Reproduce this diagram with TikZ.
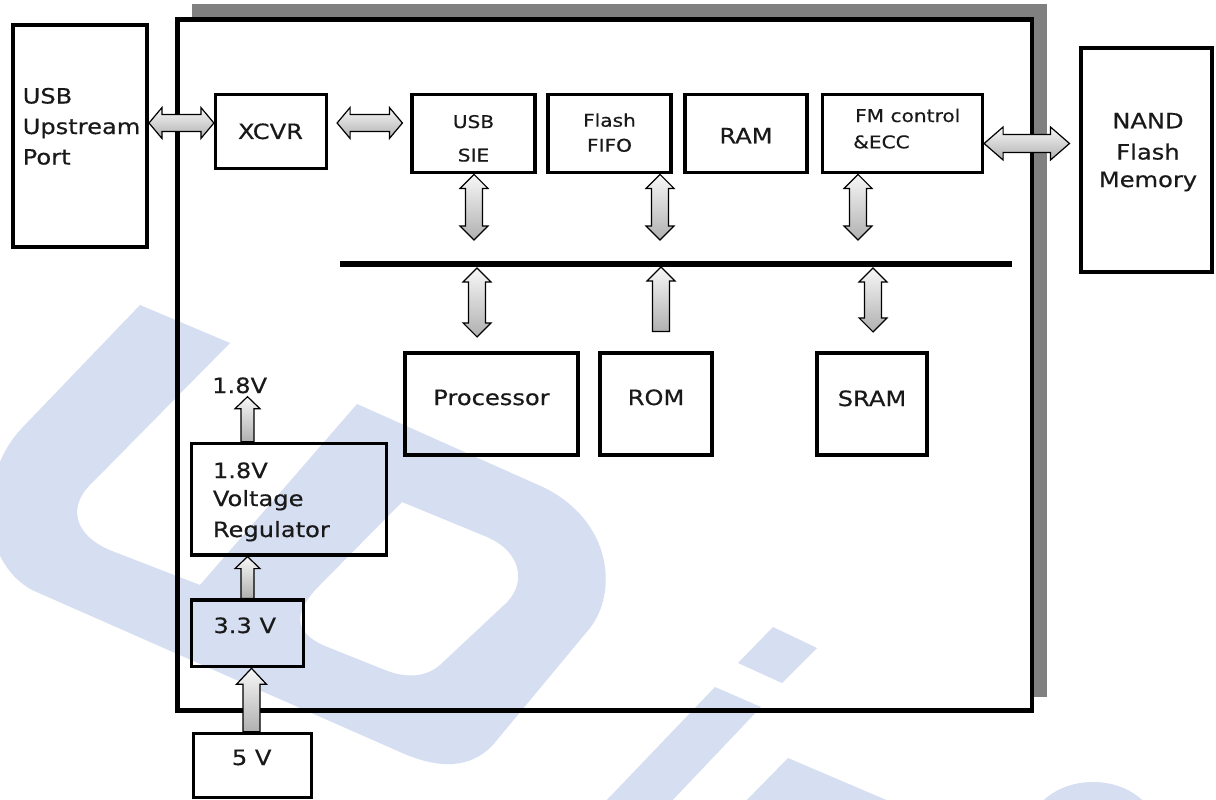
\documentclass[tikz,border=0pt]{standalone}
\usepackage{fontspec}
\setmainfont{DejaVu Sans}[FakeStretch=1.15, FakeBold=0.5]
\usetikzlibrary{calc}
\definecolor{wm}{RGB}{214,222,241}
\definecolor{shadowgray}{RGB}{128,128,128}
\definecolor{ink}{RGB}{25,25,25}
\tikzset{
  obox/.style={draw=black, line width=4, fill=none, inner sep=0pt},
  ibox/.style={draw=black, line width=3.2, fill=none, inner sep=0pt},
  txt/.style={font=\fontsize{21}{25}\selectfont, inner sep=0pt, text=ink},
  stxt/.style={font=\fontsize{17.5}{21}\selectfont, inner sep=0pt, text=ink},
  fat/.style={draw=black, line width=1.2, line join=miter, top color=gray!6, bottom color=gray!62},
  busline/.style={line width=6, draw=black},
}
% vertical double arrow: top tip #1, bottom tip #2, head half width #3, shaft half width #4, head length #5
\newcommand\vdbl[5]{\draw[fat] (#1) -- ($(#1)+(#3,#5)$) -- ($(#1)+(#4,#5)$) -- ($(#2)+(#4,-#5)$) -- ($(#2)+(#3,-#5)$) -- (#2) -- ($(#2)+(-#3,-#5)$) -- ($(#2)+(-#4,-#5)$) -- ($(#1)+(-#4,#5)$) -- ($(#1)+(-#3,#5)$) -- cycle;}
% horizontal double arrow: left tip #1, right tip #2
\newcommand\hdbl[5]{\draw[fat] (#1) -- ($(#1)+(#5,-#3)$) -- ($(#1)+(#5,-#4)$) -- ($(#2)+(-#5,-#4)$) -- ($(#2)+(-#5,-#3)$) -- (#2) -- ($(#2)+(-#5,#3)$) -- ($(#2)+(-#5,#4)$) -- ($(#1)+(#5,#4)$) -- ($(#1)+(#5,#3)$) -- cycle;}
% single up arrow: top tip #1, flat bottom #2
\newcommand\vsgl[5]{\draw[fat] (#1) -- ($(#1)+(#3,#5)$) -- ($(#1)+(#4,#5)$) -- ($(#2)+(#4,0)$) -- ($(#2)+(-#4,0)$) -- ($(#1)+(-#4,#5)$) -- ($(#1)+(-#3,#5)$) -- cycle;}

\begin{document}
\begin{tikzpicture}[x=1pt,y=-1pt]
\useasboundingbox (0,0) rectangle (1216,800);
\fill[white] (0,0) rectangle (1216,800);

% shadow and main box body
\fill[shadowgray] (192,4) rectangle (1047,697);
\node[fill=white, draw=none, outer sep=0pt, inner sep=0pt, minimum width=854.5, minimum height=691] (main) at (604.75,365) {};

% watermark
\fill[wm, even odd rule]
 (140,305) -- (22,428) .. controls (-22,474) and (-22,560) .. (32,590)
 -- (400,752) .. controls (440,770) and (470,768) .. (492,746)
 -- (590,628) .. controls (618,592) and (612,522) .. (545,488)
 -- (357,404) -- (200,585) -- (112,551) .. controls (72,535) and (68,505) .. (92,483) -- (230,343) -- cycle
 (402,502) -- (487,537) .. controls (522,552) and (528,585) .. (503,606) -- (440,665) .. controls (425,678) and (405,678) .. (385,670)
 -- (330,648) .. controls (295,635) and (290,615) .. (320,585) -- cycle;
\fill[wm] (773,627) -- (817,648) -- (782,683) -- (738,663) -- cycle;
\fill[wm] (715,687) -- (761,707) -- (668,805) -- (602,805) -- cycle;
\fill[wm] (788,758) -- (898,805) -- (742,805) -- cycle;
\fill[wm] (1093,832) ellipse [x radius=64, y radius=50];

% main box border
\draw[line width=4.5] (main.north west) rectangle (main.south east);

% boxes
\node[obox, minimum width=134, minimum height=222] (usb) at (80,136) {};
\node[obox, minimum width=131.5, minimum height=224] (nand) at (1146.25,160) {};
\node[ibox, minimum width=111, minimum height=74] (xcvr) at (271,131.5) {};
\node[ibox, minimum width=123, minimum height=78.6] (sie) at (473.5,133.5) {};
\node[ibox, minimum width=123, minimum height=78.6] (fifo) at (609.5,133.5) {};
\node[ibox, minimum width=122, minimum height=78.6] (ram) at (746,133.5) {};
\node[ibox, minimum width=160.2, minimum height=78.6] (fm) at (902.4,133.5) {};
\node[ibox, minimum width=173, minimum height=102] (proc) at (491.5,404) {};
\node[ibox, minimum width=112, minimum height=102] (rom) at (656,404) {};
\node[ibox, minimum width=110, minimum height=102] (sram) at (872,404) {};
\node[ibox, minimum width=194.8, minimum height=111.7] (reg) at (289.1,499.15) {};
\node[ibox, minimum width=111.6, minimum height=66.7] (v33) at (247.5,633.35) {};
\node[ibox, minimum width=118.4, minimum height=64.2] (v5) at (252.5,765.4) {};

% bus
\coordinate (busL) at (340,264);
\coordinate (busR) at (1012,264);
\draw[busline] (busL) -- (busR);

% arrow end points
\coordinate (h1a) at (usb.east |- 0,123);
\coordinate (h1b) at (xcvr.west |- 0,123);
\coordinate (h2a) at ($(xcvr.east |- 0,123)+(9,0)$);
\coordinate (h2b) at ($(sie.west |- 0,123)+(-8,0)$);
\coordinate (h3a) at (fm.east |- 0,143.5);
\coordinate (h3b) at ($(nand.west |- 0,143.5)+(-9,0)$);
\coordinate (u1a) at (474,0 |- sie.south);
\coordinate (u1b) at ($(474,0 |- busL)+(0,-24)$);
\coordinate (u2a) at (660,0 |- fifo.south);
\coordinate (u2b) at ($(660,0 |- busL)+(0,-24)$);
\coordinate (u3a) at (858,0 |- fm.south);
\coordinate (u3b) at ($(858,0 |- busL)+(0,-24)$);
\coordinate (d1a) at ($(477,0 |- busL)+(0,4)$);
\coordinate (d1b) at ($(477,0 |- proc.north)+(0,-14.5)$);
\coordinate (d2a) at ($(661,0 |- busL)+(0,3)$);
\coordinate (d2b) at ($(661,0 |- rom.north)+(0,-20)$);
\coordinate (d3a) at ($(873,0 |- busL)+(0,4)$);
\coordinate (d3b) at ($(873,0 |- sram.north)+(0,-19.5)$);
\coordinate (p1a) at ($(247.5,0 |- reg.north)+(0,-45)$);
\coordinate (p1b) at (247.5,0 |- reg.north);
\coordinate (p2a) at (247.5,0 |- reg.south);
\coordinate (p2b) at (247.5,0 |- v33.north);
\coordinate (p3a) at (251.5,0 |- v33.south);
\coordinate (p3b) at (251.5,0 |- v5.north);

% arrows
\hdbl{h1a}{h1b}{15.5}{8.5}{13}
\hdbl{h2a}{h2b}{15.5}{8.5}{13}
\hdbl{h3a}{h3b}{16.5}{9}{19}
\vdbl{u1a}{u1b}{14}{8.5}{14}
\vdbl{u2a}{u2b}{14}{8.5}{14}
\vdbl{u3a}{u3b}{14}{8.5}{14}
\vdbl{d1a}{d1b}{14}{8.5}{14}
\vsgl{d2a}{d2b}{14}{8.5}{14}
\vdbl{d3a}{d3b}{14}{8.5}{14}
\vsgl{p1a}{p1b}{12.5}{6.5}{12}
\vsgl{p2a}{p2b}{12.5}{6.5}{12}
\vsgl{p3a}{p3b}{15}{8.5}{16}

% texts
\node[txt, anchor=base west] (usbt1) at (22.5,103.5) {USB};
\node[txt, anchor=base west] (usbt2) at (22.5,134) {Upstream};
\node[txt, anchor=base west] (usbt3) at (22.5,164.5) {Port};
\node[txt, anchor=base] (xcvrt) at (270.5,139) {XCVR};
\node[stxt, anchor=base] (siet1) at (473.5,128) {USB};
\node[stxt, anchor=base] (siet2) at (473.5,161.5) {SIE};
\node[stxt, anchor=base] (fifot1) at (609.5,126.7) {Flash};
\node[stxt, anchor=base] (fifot2) at (609.5,151.7) {FIFO};
\node[txt, anchor=base] (ramt) at (746,143.3) {RAM};
\node[stxt, anchor=base west] (fmt1) at (855,122) {FM control};
\node[stxt, anchor=base west] (fmt2) at (853,148.3) {\&ECC};
\node[txt, anchor=base] (nandt1) at (1148,128.3) {NAND};
\node[txt, anchor=base] (nandt2) at (1148,159.5) {Flash};
\node[txt, anchor=base] (nandt3) at (1148,187) {Memory};
\node[txt, anchor=base] (proct) at (491.5,405) {Processor};
\node[txt, anchor=base] (romt) at (656,405) {ROM};
\node[txt, anchor=base] (sramt) at (872,406) {SRAM};
\node[txt, anchor=base west] (out18) at (212,393) {1.8V};
\node[txt, anchor=base west] (regt1) at (212.7,478) {1.8V};
\node[txt, anchor=base west] (regt2) at (212.7,506) {Voltage};
\node[txt, anchor=base west] (regt3) at (212.7,537) {Regulator};
\node[txt, anchor=base west] (v33t) at (213.3,633) {3.3 V};
\node[txt, anchor=base] (v5t) at (251.7,765) {5 V};
\end{tikzpicture}
\end{document}
